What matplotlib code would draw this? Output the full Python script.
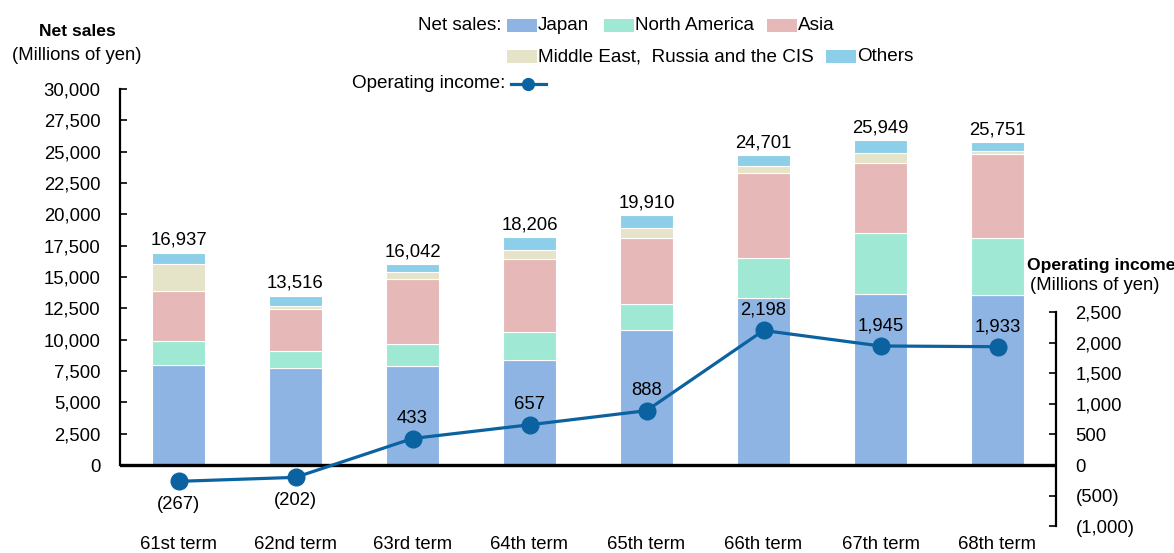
import matplotlib
matplotlib.use("Agg")
import matplotlib.pyplot as plt
from matplotlib.patches import Rectangle
from matplotlib.lines import Line2D

plt.rcParams['font.family'] = ['Liberation Sans', 'DejaVu Sans']

terms = ["61st term", "62nd term", "63rd term", "64th term", "65th term", "66th term", "67th term", "68th term"]
japan = [7950, 7760, 7870, 8400, 10800, 13300, 13630, 13550]
north_america = [1970, 1360, 1810, 2240, 2050, 3230, 4900, 4560]
asia = [3950, 3330, 5200, 5810, 5230, 6750, 5580, 6670]
middle_east = [2130, 270, 480, 690, 800, 610, 770, 270]
totals = [16937, 13516, 16042, 18206, 19910, 24701, 25949, 25751]
others = [t - (a + b + c + d) for t, a, b, c, d in zip(totals, japan, north_america, asia, middle_east)]
op_income = [-267, -202, 433, 657, 888, 2198, 1945, 1933]

series_names = ["Japan", "North America", "Asia", "Middle East,  Russia and the CIS", "Others"]
colors = ["#8EB4E3", "#9EE8D4", "#E6B8B7", "#E5E4C8", "#8DCFE8"]
line_color = "#0B62A0"

W, H = 1174, 553
fig = plt.figure(figsize=(W / 100, H / 100), dpi=100)

def fx(px):
    return px / W

def fy(py):
    return 1 - py / H

ax_left, ax_right, ax_top, ax_bot = 120, 1056, 89, 530
ax = fig.add_axes([fx(ax_left), fy(ax_bot), fx(ax_right) - fx(ax_left), fy(ax_top) - fy(ax_bot)])
ax2 = ax.twinx()

left_per_px = 30000 / (465 - 89)
ax.set_ylim(-(ax_bot - 465) * left_per_px, 30000)
right_per_px = 2500 / (465 - 312)
ax2.set_ylim(-(ax_bot - 465) * right_per_px, (465 - ax_top) * right_per_px)

x = list(range(len(terms)))
bottom = [0] * len(terms)
for vals, c, name in zip([japan, north_america, asia, middle_east, others], colors, series_names):
    ax.bar(x, vals, width=0.45, bottom=bottom, color=c, edgecolor="white", linewidth=0.8, label=name, zorder=2)
    bottom = [b + v for b, v in zip(bottom, vals)]

for xi, t in zip(x, totals):
    ax.text(xi, t + 300, f"{t:,}", ha="center", va="bottom", fontsize=13.3)

ax.axhline(0, color="black", lw=2.4, zorder=3)
ax.set_xlim(-0.5, len(terms) - 0.5)

ax.set_yticks(range(0, 30001, 2500))
ax.set_yticklabels([f"{v:,}" for v in range(0, 30001, 2500)], fontsize=13.3)
ax.tick_params(axis="y", direction="in", length=5, width=1.2, pad=14)
ax.spines["left"].set_bounds(0, 30000)
ax.spines["left"].set_linewidth(1.6)
for s in ["top", "right", "bottom"]:
    ax.spines[s].set_visible(False)
ax.set_xticks(x)
ax.set_xticklabels(terms, fontsize=13.3)
ax.tick_params(axis="x", length=0, pad=4)

ax2.plot(x, op_income, color=line_color, lw=2.3, marker="o", markersize=12, zorder=5)
for xi, v in zip(x, op_income):
    if v < 0:
        ax2.text(xi, v - 240, f"({abs(v):,})", ha="center", va="top", fontsize=13.3)
    else:
        ax2.text(xi, v + 190, f"{v:,}", ha="center", va="bottom", fontsize=13.3)

rt = list(range(-1000, 2501, 500))
ax2.set_yticks(rt)
ax2.set_yticklabels([f"({abs(v):,})" if v < 0 else f"{v:,}" for v in rt], fontsize=13.3)
ax2.tick_params(axis="y", direction="in", length=5, width=1.2, pad=14)
ax2.spines["right"].set_bounds(-1000, 2500)
ax2.spines["right"].set_linewidth(1.6)
for s in ["top", "left", "bottom"]:
    ax2.spines[s].set_visible(False)

# axis titles
fig.text(fx(77), fy(31), "Net sales", ha="center", va="center", fontsize=12.6, fontweight="bold")
fig.text(fx(77), fy(56), "(Millions of yen)", ha="center", va="center", fontsize=13.3)
fig.text(fx(1027), fy(265), "Operating income", ha="left", va="center", fontsize=12.6, fontweight="bold")
fig.text(fx(1095), fy(286), "(Millions of yen)", ha="center", va="center", fontsize=13.3)

# legend (manual)
fig.text(fx(501), fy(25), "Net sales:", ha="right", va="center", fontsize=13.6)
legend_items = [
    (507, 19, 0), (604, 19, 1), (767, 19, 2),
    (507, 50, 3), (826, 50, 4),
]
for px, py, i in legend_items:
    fig.patches.append(Rectangle((fx(px), fy(py + 13)), fx(30), 13 / H, transform=fig.transFigure,
                                 facecolor=colors[i], edgecolor="none"))
    fig.text(fx(px + 31), fy(py + 6.5), series_names[i], ha="left", va="center", fontsize=13.6)

fig.text(fx(505), fy(83), "Operating income:", ha="right", va="center", fontsize=13.6)
fig.lines.append(Line2D([fx(511), fx(546)], [fy(84), fy(84)], transform=fig.transFigure,
                        color=line_color, lw=2.3, marker=None))
fig.lines.append(Line2D([fx(528)], [fy(84)], transform=fig.transFigure,
                        color=line_color, marker="o", markersize=8.5, lw=0))

fig.savefig("out.png", dpi=100)
